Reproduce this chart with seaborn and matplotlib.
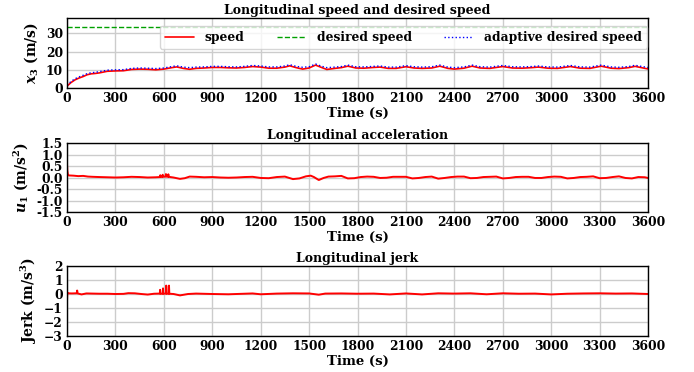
import numpy as np
import pandas as pd
import matplotlib
matplotlib.use("Agg")
import matplotlib.pyplot as plt
import seaborn as sns

# ---------------- data ----------------
t_speed = [0, 25, 50, 75, 100, 125, 150, 175, 200, 250, 300, 350, 400, 450, 500, 550,
           600, 650, 680, 720, 760, 800, 850, 900, 950, 1000, 1050, 1100, 1150, 1200,
           1250, 1300, 1350, 1380, 1420, 1460, 1500, 1540, 1580, 1610, 1660, 1700, 1740,
           1790, 1840, 1900, 1940, 1990, 2040, 2100, 2150, 2200, 2260, 2310, 2360, 2400,
           2460, 2510, 2560, 2620, 2700, 2760, 2820, 2880, 2920, 2980, 3040, 3120, 3180,
           3240, 3310, 3370, 3420, 3480, 3520, 3570, 3600]
speed = [1.0, 3.0, 4.5, 5.5, 6.3, 7.3, 7.8, 8.0, 8.3, 9.2, 9.4, 9.5, 10.2, 10.4, 10.3, 10.0,
         10.4, 11.2, 11.6, 10.8, 10.3, 10.8, 11.0, 11.3, 11.3, 11.1, 11.0, 11.3, 11.8, 11.5,
         10.9, 10.9, 11.5, 12.2, 11.2, 10.4, 11.0, 12.6, 11.2, 10.2, 10.8, 11.2, 12.0,
         11.0, 10.9, 11.3, 11.5, 10.8, 10.8, 11.7, 11.0, 10.8, 11.0, 12.0, 10.8, 10.4,
         10.9, 12.0, 11.0, 10.8, 11.8, 11.0, 10.9, 11.2, 11.5, 10.9, 10.8, 11.8, 10.9,
         10.8, 12.0, 10.9, 10.7, 11.2, 11.9, 11.0, 10.5]
adaptive = [1.5, 3.6, 5.1, 6.1, 7.0, 7.9, 8.4, 8.6, 9.0, 9.8, 10.0, 10.1, 10.8, 11.0, 10.9, 10.7,
            11.0, 11.8, 12.2, 11.5, 11.2, 11.5, 11.6, 11.9, 11.9, 11.7, 11.6, 11.9, 12.4, 12.1,
            11.6, 11.6, 12.1, 12.8, 11.9, 11.4, 11.7, 13.2, 11.9, 11.2, 11.5, 11.8, 12.6,
            11.7, 11.6, 11.9, 12.1, 11.5, 11.5, 12.3, 11.7, 11.5, 11.7, 12.6, 11.5, 11.2,
            11.6, 12.6, 11.7, 11.5, 12.4, 11.7, 11.6, 11.8, 12.1, 11.6, 11.5, 12.4, 11.6,
            11.5, 12.6, 11.6, 11.4, 11.8, 12.5, 11.7, 11.3]
t_desired = [0, 3600]
desired = [33.3, 33.3]

t_acc = [0, 2, 6, 10, 40, 70, 100, 130, 160, 200,
         250, 300, 350, 400, 450, 500, 550,
         575, 578, 581, 590, 593, 596, 610, 613, 616, 625, 628, 631, 640, 660, 700, 730,
         760, 800, 850, 900, 950, 1000, 1050, 1100, 1150, 1200, 1250, 1300, 1350, 1400,
         1440, 1480, 1510, 1530, 1560, 1590, 1620, 1660, 1700, 1740, 1780, 1820, 1860,
         1900, 1940, 1980, 2020, 2060, 2100, 2140, 2180, 2220, 2260, 2300, 2340, 2380,
         2420, 2460, 2500, 2540, 2580, 2620, 2660, 2700, 2740, 2780, 2820, 2860, 2900,
         2940, 2980, 3020, 3060, 3100, 3140, 3180, 3220, 3260, 3300, 3340, 3380, 3420,
         3460, 3500, 3540, 3580, 3600]
accel = [0.6, 0.3, 0.12, 0.09, 0.08, 0.06, 0.07, 0.04, 0.03, 0.02,
         0.01, 0.0, 0.01, 0.03, 0.02, 0.0, 0.01,
         0.02, 0.1, 0.02, 0.03, 0.12, 0.03, 0.04, 0.15, 0.04, 0.03, 0.14, 0.03, 0.02, 0.0, -0.06, -0.03,
         0.04, 0.03, 0.01, 0.02, 0.0, -0.01, 0.0, 0.02, 0.03, -0.02, -0.03, 0.02, 0.04, -0.07,
         -0.04, 0.05, 0.08, 0.02, -0.11, -0.02, 0.04, 0.05, 0.07, -0.04, -0.03, 0.02, 0.04,
         0.03, -0.02, -0.01, 0.03, 0.03, 0.03, -0.04, -0.02, 0.02, 0.04, -0.05, -0.02, 0.02,
         0.04, 0.04, -0.03, -0.02, 0.02, 0.03, 0.04, -0.04, -0.02, 0.02, 0.03, 0.03, -0.02,
         -0.02, 0.02, 0.04, 0.03, -0.04, -0.02, 0.02, 0.03, 0.05, -0.03, -0.02, 0.02, 0.05,
         -0.02, -0.04, 0.02, 0.01, -0.02]

t_jerk = [0, 2, 5, 30, 60, 63, 66, 90, 120, 160, 200, 250, 300, 350, 380, 420, 460, 500,
          540, 575, 577, 579, 593, 595, 597, 613, 615, 617, 630, 632, 634, 660, 700, 750,
          800, 900, 1000, 1100, 1150, 1200, 1300, 1400, 1500, 1560, 1600, 1700, 1800,
          1900, 2000, 2100, 2200, 2300, 2400, 2500, 2600, 2700, 2800, 2900, 3000, 3100,
          3200, 3300, 3400, 3500, 3600]
jerk = [-0.5, 0.1, 0.05, 0.04, 0.05, 0.25, 0.04, -0.03, 0.04, 0.03, 0.02, 0.02, 0.0, 0.01,
        0.06, 0.05, 0.0, -0.04, 0.02, 0.03, 0.3, 0.02, 0.02, 0.4, 0.02, 0.03, 0.6, 0.02,
        0.02, 0.6, 0.02, 0.0, -0.1, 0.0, 0.03, 0.0, -0.02, 0.02, 0.04, -0.02, 0.03, 0.05,
        0.04, -0.05, 0.03, 0.04, 0.02, 0.03, -0.03, 0.04, -0.03, 0.05, 0.03, 0.05, -0.02,
        0.05, 0.02, 0.03, -0.03, 0.02, 0.04, 0.05, 0.03, 0.04, 0.0]

xticks = list(range(0, 3601, 300))

# ---------------- style ----------------
sns.set_theme(style="whitegrid")
plt.rcParams["font.family"] = ["DejaVu Serif"]
plt.rcParams["font.weight"] = "bold"
plt.rcParams["axes.titleweight"] = "bold"
plt.rcParams["axes.labelweight"] = "bold"
plt.rcParams["mathtext.fontset"] = "dejavuserif"
plt.rcParams["axes.unicode_minus"] = True
for key in ("text.color", "axes.labelcolor", "xtick.color", "ytick.color"):
    plt.rcParams[key] = "black"

TICK_FS = 8.8
LAB_FS = 9.5
TITLE_FS = 9.0

fig = plt.figure(figsize=(6.94, 3.72), dpi=100)
L, R = 67 / 694, 648 / 694
def ax_at(top_px, bot_px):
    return fig.add_axes([L, 1 - bot_px / 372, R - L, (bot_px - top_px) / 372])

ax1 = ax_at(18, 88)
ax2 = ax_at(143, 212)
ax3 = ax_at(266, 336)

df_s = pd.DataFrame({"t": t_speed, "speed": speed, "adaptive": adaptive})
df_d = pd.DataFrame({"t": t_desired, "desired": desired})

sns.lineplot(data=df_s, x="t", y="speed", ax=ax1, color="#ff0000", lw=1.2, label="speed")
sns.lineplot(data=df_d, x="t", y="desired", ax=ax1, color="#00a000", lw=1.0,
             linestyle="--", label="desired speed")
sns.lineplot(data=df_s, x="t", y="adaptive", ax=ax1, color="#0000ff", lw=1.0,
             linestyle=":", label="adaptive desired speed")
ax1.set_ylim(0, 38.5)
ax1.set_yticks([0, 10, 20, 30])
ax1.set_ylabel(r"$x_3$ (m/s)", fontsize=LAB_FS + 0.5)
ax1.set_title("Longitudinal speed and desired speed", fontsize=TITLE_FS, pad=3)
ax1.legend(loc="upper right", bbox_to_anchor=(1 - 1 / 581, 1 - 8 / 70), ncol=3,
           fontsize=TICK_FS, handlelength=2.4, handletextpad=0.9,
           columnspacing=2.6, borderaxespad=0.0, framealpha=0.8, fancybox=True,
           borderpad=0.4, edgecolor="#cccccc")

df_a = pd.DataFrame({"t": t_acc, "a": accel})
sns.lineplot(data=df_a, x="t", y="a", ax=ax2, color="#ff0000", lw=1.4)
ax2.set_ylim(-1.5, 1.5)
ax2.set_yticks(np.arange(-1.5, 1.51, 0.5))
ax2.yaxis.set_major_formatter(matplotlib.ticker.FormatStrFormatter("%.1f"))
ax2.set_ylabel(r"$u_1$ (m/s$^2$)", fontsize=LAB_FS + 0.5)
ax2.set_title("Longitudinal acceleration", fontsize=TITLE_FS, pad=3)

df_j = pd.DataFrame({"t": t_jerk, "j": jerk})
sns.lineplot(data=df_j, x="t", y="j", ax=ax3, color="#ff0000", lw=1.4)
ax3.set_ylim(-3, 2)
ax3.set_yticks([-3, -2, -1, 0, 1, 2])
ax3.set_ylabel(r"Jerk (m/s$^3$)", fontsize=LAB_FS + 0.5)
ax3.set_title("Longitudinal jerk", fontsize=TITLE_FS, pad=3)

for ax in (ax1, ax2, ax3):
    ax.set_xlim(0, 3600)
    ax.set_xticks(xticks)
    ax.set_xlabel("Time (s)", fontsize=LAB_FS, labelpad=1)
    ax.tick_params(axis="both", labelsize=TICK_FS, pad=3, length=0)
    ax.grid(True, color="#cccccc", lw=1.0)
    for sp in ax.spines.values():
        sp.set_edgecolor("black")
        sp.set_linewidth(1.0)

fig.savefig("out.png", dpi=100)
